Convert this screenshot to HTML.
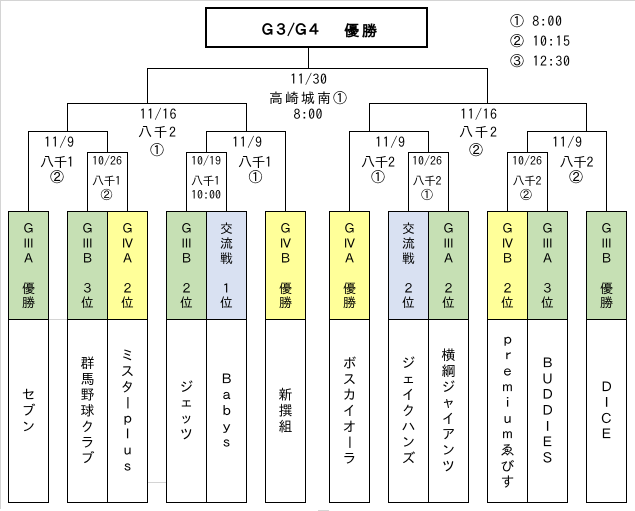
<!DOCTYPE html>
<html><head><meta charset="utf-8"><style>
html,body{margin:0;padding:0;background:#fff;}
svg{display:block;}
text{font-family:"IPAGothic","Noto Sans CJK JP",sans-serif;fill:#000;}
.b{font-size:14px;text-anchor:middle;}
.s{font-size:12px;text-anchor:middle;}
.h{font-size:13px;text-anchor:middle;}
.n{font-size:14px;text-anchor:middle;}
</style></head><body>
<svg width="635" height="511" viewBox="0 0 635 511" xmlns="http://www.w3.org/2000/svg">
<rect x="0" y="0" width="635" height="511" fill="#fff"/>
<!-- frame gray -->
<rect x="0" y="0" width="635" height="1" fill="#d4d4d4"/>
<rect x="0" y="0" width="1" height="509" fill="#d4d4d4"/>
<rect x="48" y="319" width="19" height="1" fill="#d4d4d4"/>
<rect x="147" y="482" width="19" height="1" fill="#d4d4d4"/>
<rect x="318" y="510" width="11" height="1" fill="#d4d4d4"/>

<!-- team header fills -->
<g shape-rendering="crispEdges">
<rect x="8" y="211" width="40" height="108" fill="#c6e0b4"/>
<rect x="67" y="211" width="40" height="108" fill="#c6e0b4"/>
<rect x="107" y="211" width="40" height="108" fill="#ffff99"/>
<rect x="166" y="211" width="40" height="108" fill="#c6e0b4"/>
<rect x="206" y="211" width="40" height="108" fill="#d9e1f2"/>
<rect x="265" y="211" width="40" height="108" fill="#ffff99"/>
<rect x="329" y="211" width="40" height="108" fill="#ffff99"/>
<rect x="388" y="211" width="40" height="108" fill="#d9e1f2"/>
<rect x="428" y="211" width="40" height="108" fill="#c6e0b4"/>
<rect x="487" y="211" width="40" height="108" fill="#ffff99"/>
<rect x="527" y="211" width="40" height="108" fill="#c6e0b4"/>
<rect x="586" y="211" width="40" height="108" fill="#c6e0b4"/>
</g>

<!-- title box -->
<rect x="206" y="8" width="221" height="39" fill="#fff" stroke="#000" stroke-width="2" shape-rendering="crispEdges"/>

<!-- bracket lines and box borders -->
<path shape-rendering="crispEdges" fill="none" stroke="#000" stroke-width="1" d="
M308.5 48 V69
M147 68.5 H488
M147.5 68 V104 M487.5 68 V104
M67 103.5 H247 M67.5 103 V132 M246.5 103 V132
M369 103.5 H587 M369.5 103 V132 M586.5 103 V132
M28 131.5 H108 M28.5 131 V212 M107.5 131 V153
M87 152.5 H128 M87.5 152 V212 M127.5 152 V212
M206 131.5 H286 M206.5 131 V153 M285.5 131 V212
M186 152.5 H227 M186.5 152 V212 M226.5 152 V212
M349 131.5 H429 M349.5 131 V212 M428.5 131 V153
M408 152.5 H449 M408.5 152 V212 M448.5 152 V212
M527 131.5 H607 M527.5 131 V153 M606.5 131 V212
M507 152.5 H548 M507.5 152 V212 M547.5 152 V212

M8.5 211 V503 M48.5 211 V503 M8 211.5 H49 M8 319.5 H49 M8 502.5 H49
M67.5 211 V503 M107.5 211 V503 M147.5 211 V503 M67 211.5 H148 M67 319.5 H148 M67 502.5 H148
M166.5 211 V503 M206.5 211 V503 M246.5 211 V503 M166 211.5 H247 M166 319.5 H247 M166 502.5 H247
M265.5 211 V503 M305.5 211 V503 M265 211.5 H306 M265 319.5 H306 M265 502.5 H306
M329.5 211 V503 M369.5 211 V503 M329 211.5 H370 M329 319.5 H370 M329 502.5 H370
M388.5 211 V503 M428.5 211 V503 M468.5 211 V503 M388 211.5 H469 M388 319.5 H469 M388 502.5 H469
M487.5 211 V503 M527.5 211 V503 M567.5 211 V503 M487 211.5 H568 M487 319.5 H568 M487 502.5 H568
M586.5 211 V503 M626.5 211 V503 M586 211.5 H627 M586 319.5 H627 M586 502.5 H627
"/>

<!-- title -->
<text x="260" y="35" font-size="15" font-weight="bold" textLength="62">Ｇ３/Ｇ４</text>
<text x="344" y="36" font-size="15" font-weight="bold" textLength="33">優勝</text>

<!-- legend -->
<text x="510" y="26" font-size="14" textLength="52">① 8:00</text>
<text x="510" y="46" font-size="14" textLength="60">② 10:15</text>
<text x="510" y="66" font-size="14" textLength="60">③ 12:30</text>

<!-- final -->
<text class="b" x="308.5" y="84" textLength="37">11/30</text>
<text class="b" x="308" y="103" textLength="78">高崎城南①</text>
<text class="b" x="308" y="119" textLength="29">8:00</text>

<!-- semis -->
<text class="b" x="158" y="119" textLength="37">11/16</text>
<text class="b" x="157" y="137" textLength="38">八千2</text>
<text class="b" x="157" y="155">①</text>
<text class="b" x="478.5" y="119" textLength="37">11/16</text>
<text class="b" x="478" y="137" textLength="38">八千2</text>
<text class="b" x="476" y="155">②</text>

<!-- quarter -->
<text class="b" x="59" y="147" textLength="30">11/9</text>
<text class="b" x="57" y="167" textLength="34">八千1</text>
<text class="b" x="57" y="182">②</text>

<text class="b" x="247" y="147" textLength="30">11/9</text>
<text class="b" x="255" y="167" textLength="34">八千1</text>
<text class="b" x="255.5" y="182">①</text>

<text class="b" x="390" y="147" textLength="30">11/9</text>
<text class="b" x="378" y="167" textLength="34">八千2</text>
<text class="b" x="378" y="182">①</text>

<text class="b" x="567" y="147" textLength="30">11/9</text>
<text class="b" x="576.5" y="167" textLength="34">八千2</text>
<text class="b" x="576" y="182">②</text>

<!-- small brackets -->
<text class="s" x="107" y="165" textLength="30">10/26</text>
<text class="s" x="106.5" y="185" textLength="29">八千1</text>
<text class="s" x="106.5" y="199">②</text>

<text class="s" x="206" y="165" textLength="30">10/19</text>
<text class="s" x="205.5" y="185" textLength="29">八千1</text>
<text class="s" x="206" y="199" textLength="30">10:00</text>

<text class="s" x="427" y="165" textLength="30">10/26</text>
<text class="s" x="427" y="185" textLength="29">八千2</text>
<text class="s" x="427" y="199">①</text>

<text class="s" x="527" y="165" textLength="30">10/26</text>
<text class="s" x="527" y="185" textLength="29">八千2</text>
<text class="s" x="526" y="199">②</text>

<!-- headers -->
<text class="h"><tspan x="28.5" y="233">Ｇ</tspan><tspan x="28.5" y="248">Ⅲ</tspan><tspan x="28.5" y="263">Ａ</tspan><tspan x="28.5" y="293">優</tspan><tspan x="28.5" y="307">勝</tspan></text>
<text class="h"><tspan x="87.5" y="233">Ｇ</tspan><tspan x="87.5" y="248">Ⅲ</tspan><tspan x="87.5" y="263">Ｂ</tspan><tspan x="87.5" y="293">３</tspan><tspan x="87.5" y="307">位</tspan></text>
<text class="h"><tspan x="127.5" y="233">Ｇ</tspan><tspan x="127.5" y="248">Ⅳ</tspan><tspan x="127.5" y="263">Ａ</tspan><tspan x="127.5" y="293">２</tspan><tspan x="127.5" y="307">位</tspan></text>
<text class="h"><tspan x="186.5" y="233">Ｇ</tspan><tspan x="186.5" y="248">Ⅲ</tspan><tspan x="186.5" y="263">Ｂ</tspan><tspan x="186.5" y="293">２</tspan><tspan x="186.5" y="307">位</tspan></text>
<text class="h"><tspan x="226.5" y="233">交</tspan><tspan x="226.5" y="248">流</tspan><tspan x="226.5" y="263">戦</tspan><tspan x="226.5" y="293">１</tspan><tspan x="226.5" y="307">位</tspan></text>
<text class="h"><tspan x="285.5" y="233">Ｇ</tspan><tspan x="285.5" y="248">Ⅳ</tspan><tspan x="285.5" y="263">Ｂ</tspan><tspan x="285.5" y="293">優</tspan><tspan x="285.5" y="307">勝</tspan></text>
<text class="h"><tspan x="349.5" y="233">Ｇ</tspan><tspan x="349.5" y="248">Ⅳ</tspan><tspan x="349.5" y="263">Ａ</tspan><tspan x="349.5" y="293">優</tspan><tspan x="349.5" y="307">勝</tspan></text>
<text class="h"><tspan x="408.5" y="233">交</tspan><tspan x="408.5" y="248">流</tspan><tspan x="408.5" y="263">戦</tspan><tspan x="408.5" y="293">２</tspan><tspan x="408.5" y="307">位</tspan></text>
<text class="h"><tspan x="448.5" y="233">Ｇ</tspan><tspan x="448.5" y="248">Ⅲ</tspan><tspan x="448.5" y="263">Ａ</tspan><tspan x="448.5" y="293">２</tspan><tspan x="448.5" y="307">位</tspan></text>
<text class="h"><tspan x="507.5" y="233">Ｇ</tspan><tspan x="507.5" y="248">Ⅳ</tspan><tspan x="507.5" y="263">Ｂ</tspan><tspan x="507.5" y="293">２</tspan><tspan x="507.5" y="307">位</tspan></text>
<text class="h"><tspan x="547.5" y="233">Ｇ</tspan><tspan x="547.5" y="248">Ⅲ</tspan><tspan x="547.5" y="263">Ａ</tspan><tspan x="547.5" y="293">３</tspan><tspan x="547.5" y="307">位</tspan></text>
<text class="h"><tspan x="606.5" y="233">Ｇ</tspan><tspan x="606.5" y="248">Ⅲ</tspan><tspan x="606.5" y="263">Ｂ</tspan><tspan x="606.5" y="293">優</tspan><tspan x="606.5" y="307">勝</tspan></text>

<!-- team names -->
<text class="n"><tspan x="28.5" y="399.7">セ</tspan><tspan x="28.5" y="415.5">ブ</tspan><tspan x="28.5" y="431.3">ン</tspan></text>

<text class="n"><tspan x="87.5" y="368.1">群</tspan><tspan x="87.5" y="383.9">馬</tspan><tspan x="87.5" y="399.7">野</tspan><tspan x="87.5" y="415.5">球</tspan><tspan x="87.5" y="431.3">ク</tspan><tspan x="87.5" y="447.1">ラ</tspan><tspan x="87.5" y="462.9">ブ</tspan></text>

<text class="n"><tspan x="127.5" y="360.2">ミ</tspan><tspan x="127.5" y="376.0">ス</tspan><tspan x="127.5" y="391.8">タ</tspan><tspan x="127.5" y="423.4">ｐ</tspan><tspan x="127.5" y="439.2">ｌ</tspan><tspan x="127.5" y="455.0">ｕ</tspan><tspan x="127.5" y="470.8">ｓ</tspan></text>
<text class="n" x="127.5" y="407.6" transform="rotate(90 127.5 402.6)">ー</text>

<text class="n"><tspan x="186.5" y="391.8">ジ</tspan><tspan x="186.5" y="407.6">ェ</tspan><tspan x="186.5" y="423.4">ッ</tspan><tspan x="186.5" y="439.2">ツ</tspan></text>

<text class="n"><tspan x="226.5" y="383.9">Ｂ</tspan><tspan x="226.5" y="399.7">ａ</tspan><tspan x="226.5" y="415.5">ｂ</tspan><tspan x="226.5" y="431.3">ｙ</tspan><tspan x="226.5" y="447.1">ｓ</tspan></text>

<text class="n"><tspan x="285.5" y="399.7">新</tspan><tspan x="285.5" y="415.5">撰</tspan><tspan x="285.5" y="431.3">組</tspan></text>

<text class="n"><tspan x="349.5" y="368.1">ボ</tspan><tspan x="349.5" y="383.9">ス</tspan><tspan x="349.5" y="399.7">カ</tspan><tspan x="349.5" y="415.5">イ</tspan><tspan x="349.5" y="431.3">オ</tspan><tspan x="349.5" y="462.9">ラ</tspan></text>
<text class="n" x="349.5" y="447.1" transform="rotate(90 349.5 442.1)">ー</text>

<text class="n"><tspan x="408.5" y="368.1">ジ</tspan><tspan x="408.5" y="383.9">ェ</tspan><tspan x="408.5" y="399.7">イ</tspan><tspan x="408.5" y="415.5">ク</tspan><tspan x="408.5" y="431.3">ハ</tspan><tspan x="408.5" y="447.1">ン</tspan><tspan x="408.5" y="462.9">ズ</tspan></text>

<text class="n"><tspan x="448.5" y="360.2">横</tspan><tspan x="448.5" y="376.0">綱</tspan><tspan x="448.5" y="391.8">ジ</tspan><tspan x="448.5" y="407.6">ャ</tspan><tspan x="448.5" y="423.4">イ</tspan><tspan x="448.5" y="439.2">ア</tspan><tspan x="448.5" y="455.0">ン</tspan><tspan x="448.5" y="470.8">ツ</tspan></text>

<text class="n"><tspan x="507.5" y="344.4">ｐ</tspan><tspan x="507.5" y="360.2">ｒ</tspan><tspan x="507.5" y="376.0">ｅ</tspan><tspan x="507.5" y="391.8">ｍ</tspan><tspan x="507.5" y="407.6">ｉ</tspan><tspan x="507.5" y="423.4">ｕ</tspan><tspan x="507.5" y="439.2">ｍ</tspan><tspan x="507.5" y="455.0">ゑ</tspan><tspan x="507.5" y="470.8">び</tspan><tspan x="507.5" y="486.6">す</tspan></text>

<text class="n"><tspan x="547.5" y="368.1">Ｂ</tspan><tspan x="547.5" y="383.9">Ｕ</tspan><tspan x="547.5" y="399.7">Ｄ</tspan><tspan x="547.5" y="415.5">Ｄ</tspan><tspan x="547.5" y="431.3">Ｉ</tspan><tspan x="547.5" y="447.1">Ｅ</tspan><tspan x="547.5" y="462.9">Ｓ</tspan></text>

<text class="n"><tspan x="606.5" y="391.8">Ｄ</tspan><tspan x="606.5" y="407.6">Ｉ</tspan><tspan x="606.5" y="423.4">Ｃ</tspan><tspan x="606.5" y="439.2">Ｅ</tspan></text>
</svg>
</body></html>
